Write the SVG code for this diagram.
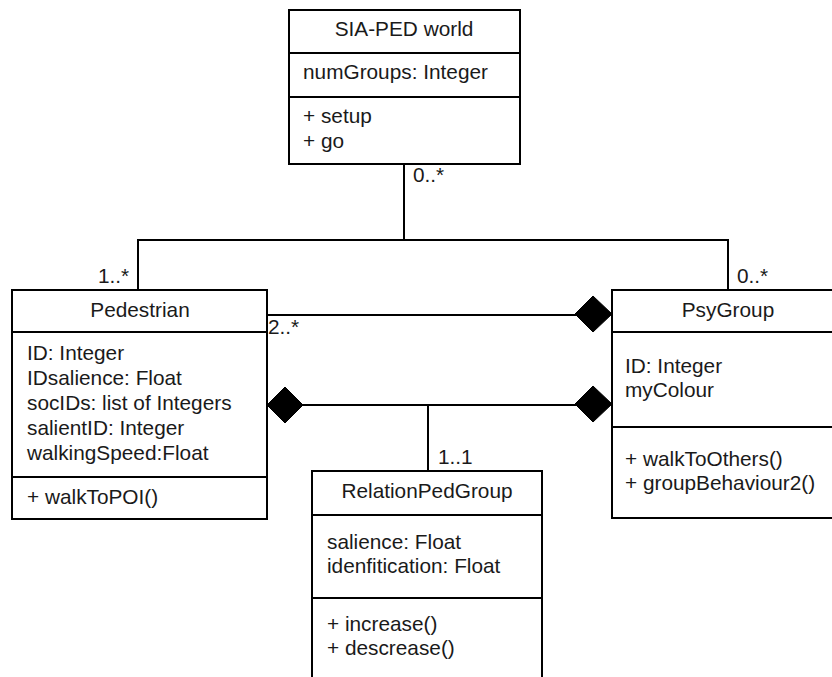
<svg xmlns="http://www.w3.org/2000/svg" width="832" height="677" viewBox="0 0 832 677">
<style>
.box{fill:#fff;stroke:#000;stroke-width:2}
.ln{fill:none;stroke:#000;stroke-width:2}
text{font-family:"Liberation Sans",Arial,sans-serif;font-size:20.8px;fill:#1a1a1a}
.c{text-anchor:middle}
.dia{fill:#000;stroke:#000;stroke-width:1}
</style>
<rect width="832" height="677" fill="#fff"/>
<g id="connectors">
<polyline class="ln" points="404,164 404,240"/>
<polyline class="ln" points="138,290 138,240 728,240 728,290"/>
<polyline class="ln" points="267,315 576,315"/>
<polyline class="ln" points="302,405 576,405"/>
<polyline class="ln" points="428,405 428,471"/>
<polygon class="dia" points="575,314 593,296 612,314 593,332"/>
<polygon class="dia" points="575,404 593,386 612,404 593,422"/>
<polygon class="dia" points="267,405 285,387 303,405 285,423"/>
<text x="413" y="182">0..*</text>
<text x="98" y="283">1..*</text>
<text x="737" y="283">0..*</text>
<text x="268" y="334">2..*</text>
<text x="438" y="464">1..1</text>
</g>
<g id="sia-ped-world">
<rect class="box" x="289" y="10" width="231" height="154"/>
<line class="ln" x1="289" y1="53" x2="520" y2="53"/>
<line class="ln" x1="289" y1="97" x2="520" y2="97"/>
<text class="c" x="404" y="36">SIA-PED world</text>
<text x="303" y="79">numGroups: Integer</text>
<text x="303" y="123">+ setup</text>
<text x="303" y="148">+ go</text>
</g>
<g id="pedestrian">
<rect class="box" x="12" y="290" width="255" height="229"/>
<line class="ln" x1="12" y1="332" x2="267" y2="332"/>
<line class="ln" x1="12" y1="477" x2="267" y2="477"/>
<text class="c" x="140" y="317">Pedestrian</text>
<text x="27" y="360">ID: Integer</text>
<text x="27" y="385">IDsalience: Float</text>
<text x="27" y="410">socIDs: list of Integers</text>
<text x="27" y="435">salientID: Integer</text>
<text x="27" y="460">walkingSpeed:Float</text>
<text x="27" y="504">+ walkToPOI()</text>
</g>
<g id="psygroup">
<rect class="box" x="612" y="290" width="233" height="228"/>
<line class="ln" x1="612" y1="332" x2="845" y2="332"/>
<line class="ln" x1="612" y1="427" x2="845" y2="427"/>
<text class="c" x="728" y="317">PsyGroup</text>
<text x="625" y="373">ID: Integer</text>
<text x="625" y="397">myColour</text>
<text x="625" y="466">+ walkToOthers()</text>
<text x="625" y="490">+ groupBehaviour2()</text>
</g>
<g id="relationpedgroup">
<rect class="box" x="312" y="471" width="230" height="220"/>
<line class="ln" x1="312" y1="515" x2="542" y2="515"/>
<line class="ln" x1="312" y1="598" x2="542" y2="598"/>
<text class="c" x="427" y="498">RelationPedGroup</text>
<text x="327" y="549">salience: Float</text>
<text x="327" y="573">idenfitication: Float</text>
<text x="327" y="631">+ increase()</text>
<text x="327" y="655">+ descrease()</text>
</g>
</svg>
